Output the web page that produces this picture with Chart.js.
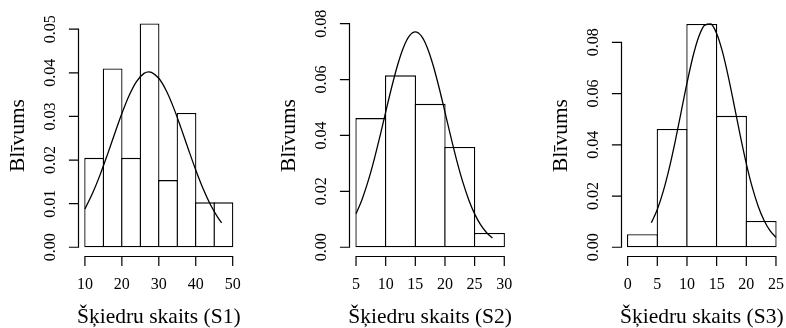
<!DOCTYPE html>
<html>
<head>
<meta charset="utf-8">
<script src="https://cdn.jsdelivr.net/npm/chart.js@4.4.1/dist/chart.umd.min.js"></script>
<style>
  html, body { margin: 0; padding: 0; background: #ffffff; }
  #wrap { position: relative; width: 786px; height: 328px; overflow: hidden; }
  .panel { position: absolute; top: 0; width: 262px; height: 328px; }
  .panel canvas { display: block; }
</style>
</head>
<body>
<div id="wrap">
  <div class="panel" style="left:0px"><canvas id="c1" width="262" height="328"></canvas></div>
  <div class="panel" style="left:262px"><canvas id="c2" width="262" height="328"></canvas></div>
  <div class="panel" style="left:524px"><canvas id="c3" width="262" height="328"></canvas></div>
</div>
<script>
// ---- S1: fibre counts, histogram density + fitted normal curve ----
const s1Breaks  = [10, 15, 20, 25, 30, 35, 40, 45, 50];
const s1Density = [0.0205, 0.0410, 0.0205, 0.0513, 0.0154, 0.0308, 0.0103, 0.0103];
const s1CurveX  = [10, 12, 14, 16, 18, 20, 22, 24, 26, 27.3, 28, 30, 32, 34, 36, 38, 40, 42, 44, 46, 47];
const s1CurveY  = [0.00879, 0.01225, 0.01637, 0.02102, 0.02592, 0.03068, 0.03487, 0.03806, 0.03988, 0.04022,
                   0.04012, 0.03876, 0.03595, 0.03202, 0.02738, 0.02248, 0.01773, 0.01342, 0.00975, 0.00681, 0.00560];
const s1XTicks  = [10, 20, 30, 40, 50];
const s1YTicks  = [0, 0.01, 0.02, 0.03, 0.04, 0.05];
const s1YLabels = ['0.00', '0.01', '0.02', '0.03', '0.04', '0.05'];

// ---- S2 ----
const s2Breaks  = [5, 10, 15, 20, 25, 30];
const s2Density = [0.0462, 0.0615, 0.0513, 0.0359, 0.0051];
const s2CurveX  = [5, 6, 7, 8, 9, 10, 11, 12, 13, 14, 15, 16, 17, 18, 19, 20, 21, 22, 23, 24, 25, 26, 27, 28];
const s2CurveY  = [0.01195, 0.01703, 0.02337, 0.03091, 0.03938, 0.04834, 0.05716, 0.06513, 0.07149, 0.07560,
                   0.07702, 0.07560, 0.07149, 0.06513, 0.05716, 0.04834, 0.03938, 0.03091, 0.02337, 0.01703,
                   0.01195, 0.00808, 0.00527, 0.00330];
const s2XTicks  = [5, 10, 15, 20, 25, 30];
const s2YTicks  = [0, 0.02, 0.04, 0.06, 0.08];
const s2YLabels = ['0.00', '0.02', '0.04', '0.06', '0.08'];

// ---- S3 ----
const s3Breaks  = [0, 5, 10, 15, 20, 25];
const s3Density = [0.0051, 0.0462, 0.0872, 0.0513, 0.0103];
const s3CurveX  = [4, 5, 6, 7, 8, 9, 10, 11, 12, 13, 14, 15, 16, 17, 18, 19, 20, 21, 22, 23, 24, 25];
const s3CurveY  = [0.00954, 0.01478, 0.02182, 0.03069, 0.04115, 0.05260, 0.06407, 0.07437, 0.08227, 0.08674,
                   0.08715, 0.08346, 0.07618, 0.06626, 0.05493, 0.04339, 0.03268, 0.02345, 0.01604, 0.01046,
                   0.00649, 0.00384];
const s3XTicks  = [0, 5, 10, 15, 20, 25];
const s3YTicks  = [0, 0.02, 0.04, 0.06, 0.08];
const s3YLabels = ['0.00', '0.02', '0.04', '0.06', '0.08'];

const yTitle = 'Blīvums';

const FONT_FAMILY = '"Liberation Serif", "Times New Roman", serif';
const TICK_FONT = '16px ' + FONT_FAMILY;
const TITLE_FONT = '21.5px ' + FONT_FAMILY;
const LINE_W = 1.3;

// Axes drawn R-style: detached lines spanning first..last tick, outward ticks.
const baseAxesPlugin = {
  id: 'baseAxes',
  afterDraw(chart, args, opts) {
    const ctx = chart.ctx;
    const xs = chart.scales.x, ys = chart.scales.y;
    const area = chart.chartArea;
    const tickLen = 9;
    ctx.save();
    ctx.strokeStyle = '#000';
    ctx.fillStyle = '#000';
    ctx.lineWidth = 1.2;
    ctx.lineCap = 'square';

    // x axis
    const ay = Math.round(area.bottom) + 0.5;
    const xPix = opts.xTicks.map(v => xs.getPixelForValue(v));
    ctx.beginPath();
    ctx.moveTo(xPix[0], ay);
    ctx.lineTo(xPix[xPix.length - 1], ay);
    xPix.forEach(p => { ctx.moveTo(p, ay); ctx.lineTo(p, ay + tickLen); });
    ctx.stroke();
    ctx.font = TICK_FONT;
    ctx.textAlign = 'center';
    ctx.textBaseline = 'alphabetic';
    opts.xTicks.forEach((v, i) => ctx.fillText(String(v), xPix[i], ay + 32.5));

    // y axis
    const ax = Math.round(area.left) - 0.5;
    const yPix = opts.yTicks.map(v => ys.getPixelForValue(v));
    ctx.beginPath();
    ctx.moveTo(ax, yPix[0]);
    ctx.lineTo(ax, yPix[yPix.length - 1]);
    yPix.forEach(p => { ctx.moveTo(ax, p); ctx.lineTo(ax - tickLen, p); });
    ctx.stroke();
    opts.yLabels.forEach((lab, i) => {
      ctx.save();
      ctx.translate(ax - 23.5, yPix[i]);
      ctx.rotate(-Math.PI / 2);
      ctx.fillText(lab, 0, 0);
      ctx.restore();
    });

    // titles
    ctx.font = TITLE_FONT;
    ctx.fillText(opts.xTitle, (area.left + area.right) / 2, 323);
    ctx.save();
    ctx.translate(ax - 55, (area.top + area.bottom) / 2);
    ctx.rotate(-Math.PI / 2);
    ctx.fillText(opts.yTitle, 0, 0);
    ctx.restore();
    ctx.restore();
  }
};

function binMids(breaks) {
  const out = [];
  for (let i = 0; i < breaks.length - 1; i++) out.push((breaks[i] + breaks[i + 1]) / 2);
  return out;
}

function makeHist(canvasId, cfg) {
  const mids = binMids(cfg.breaks);
  const bars = mids.map((m, i) => ({ x: m, y: cfg.density[i] }));
  const curve = cfg.curveX.map((x, i) => ({ x: x, y: cfg.curveY[i] }));
  return new Chart(document.getElementById(canvasId), {
    data: {
      datasets: [
        {
          type: 'bar',
          data: bars,
          backgroundColor: '#ffffff',
          borderColor: '#000000',
          borderWidth: LINE_W,
          borderSkipped: false,
          inflateAmount: 0,
          categoryPercentage: 1,
          // widened so neighbouring outlines share one edge
          barPercentage: cfg.barPct,
          order: 2
        },
        {
          type: 'line',
          data: curve,
          borderColor: '#000000',
          borderWidth: LINE_W,
          pointRadius: 0,
          fill: false,
          cubicInterpolationMode: 'monotone',
          order: 1
        }
      ]
    },
    options: {
      responsive: false,
      animation: false,
      devicePixelRatio: 1,
      layout: { padding: cfg.padding },
      plugins: {
        legend: { display: false },
        tooltip: { enabled: false },
        baseAxes: {
          xTicks: cfg.xTicks,
          yTicks: cfg.yTicks,
          yLabels: cfg.yLabels,
          xTitle: cfg.xTitle,
          yTitle: yTitle
        }
      },
      scales: {
        x: { type: 'linear', display: false, offset: false, min: cfg.xMin, max: cfg.xMax },
        y: { type: 'linear', display: false, min: cfg.yMin, max: cfg.yMax }
      }
    },
    plugins: [baseAxesPlugin]
  });
}

makeHist('c1', {
  breaks: s1Breaks, density: s1Density, curveX: s1CurveX, curveY: s1CurveY,
  xTicks: s1XTicks, yTicks: s1YTicks, yLabels: s1YLabels,
  xTitle: 'Šķiedru skaits (S1)',
  xMin: 8.4, xMax: 51.6, yMin: -0.00205, yMax: 0.05333,
  padding: { left: 79, right: 23.4, top: 14.7, bottom: 71.8 },
  barPct: 1.0704
});
makeHist('c2', {
  breaks: s2Breaks, density: s2Density, curveX: s2CurveX, curveY: s2CurveY,
  xTicks: s2XTicks, yTicks: s2YTicks, yLabels: s2YLabels,
  xTitle: 'Šķiedru skaits (S2)',
  xMin: 4, xMax: 31, yMin: -0.0032, yMax: 0.0832,
  padding: { left: 88.1, right: 13.8, top: 14.7, bottom: 71.8 },
  barPct: 1.0439
});
makeHist('c3', {
  breaks: s3Breaks, density: s3Density, curveX: s3CurveX, curveY: s3CurveY,
  xTicks: s3XTicks, yTicks: s3YTicks, yLabels: s3YLabels,
  xTitle: 'Šķiedru skaits (S3)',
  xMin: -1, xMax: 26, yMin: -0.00349, yMax: 0.09079,
  padding: { left: 97.7, right: 4.1, top: 14.7, bottom: 71.8 },
  barPct: 1.0439
});
</script>
</body>
</html>
